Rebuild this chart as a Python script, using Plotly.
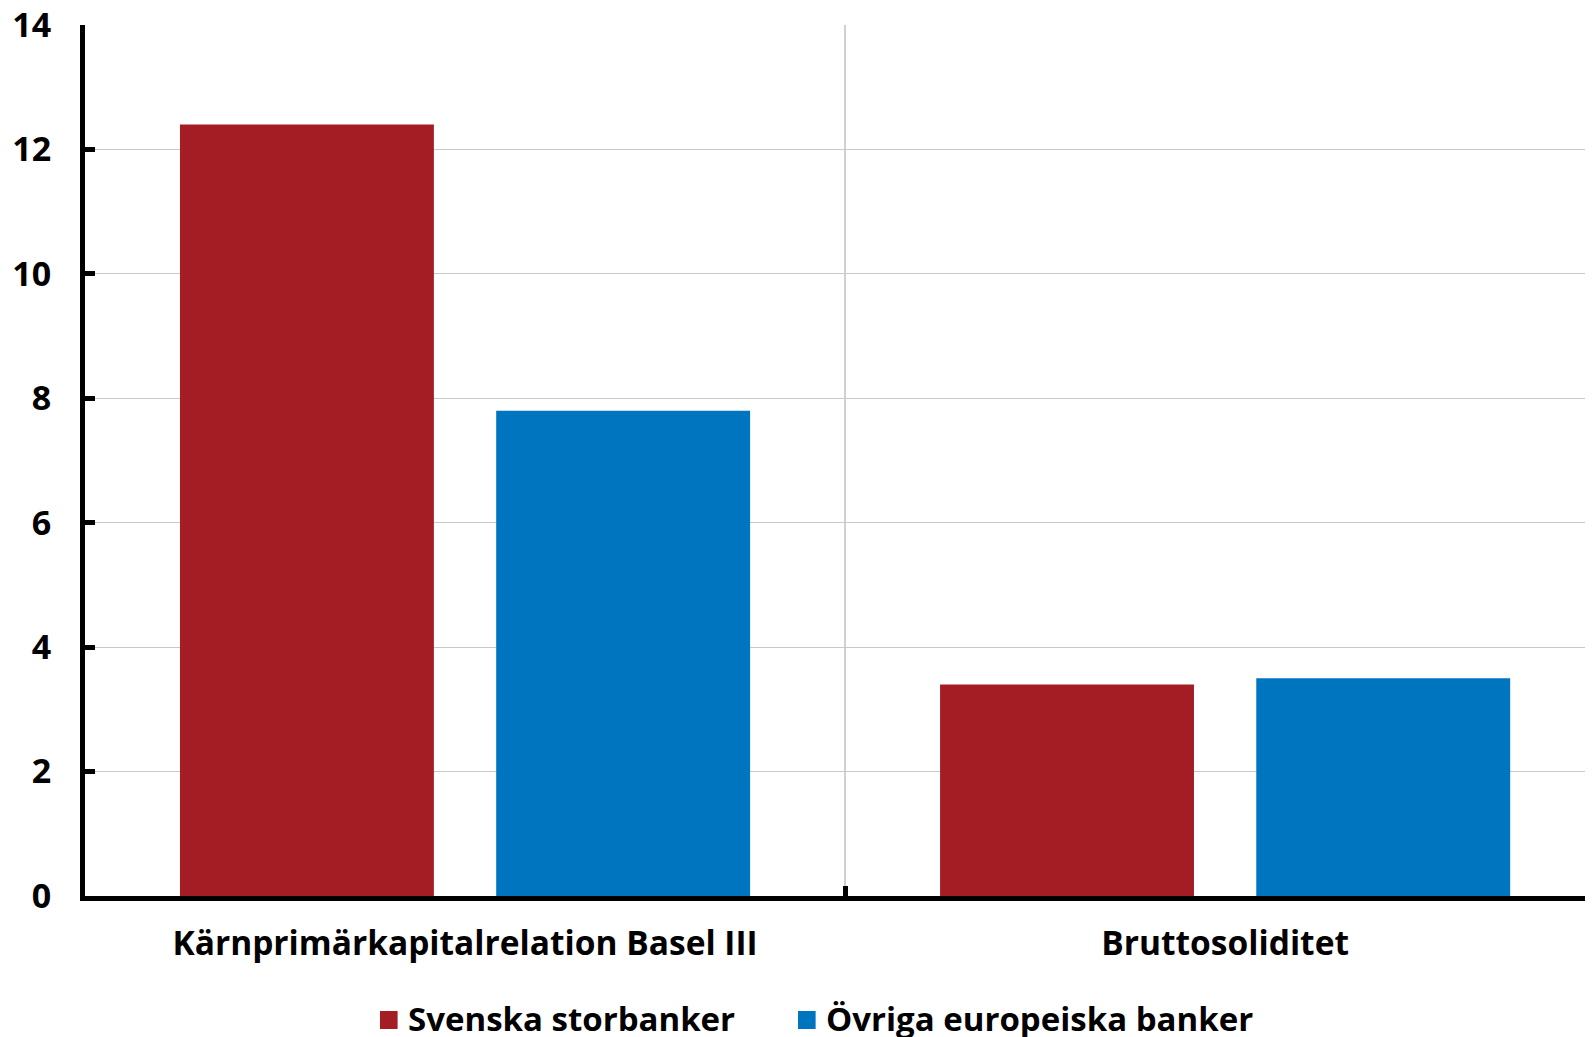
import plotly.graph_objects as go

categories = ["Kärnprimärkapitalrelation Basel III", "Bruttosoliditet"]
series_names = ["Svenska storbanker", "Övriga europeiska banker"]
svenska = [12.4, 3.4]
ovriga = [7.8, 3.5]
y_ticks = [0, 2, 4, 6, 8, 10, 12, 14]

RED = "#A41D24"
BLUE = "#0075BF"
colors = [RED, BLUE]
FONT = dict(family="Open Sans", size=33.5, color="#000000", weight="bold")
TICKFONT = dict(family="Open Sans", size=34, color="#000000", weight="bold")
LEGFONT = dict(family="Open Sans", size=33, color="#000000", weight="bold")

fig = go.Figure()
for name, vals, col in zip(series_names, [svenska, ovriga], colors):
    fig.add_trace(go.Bar(x=categories, y=vals, name=name,
                         marker=dict(color=col, line=dict(width=0)), showlegend=False))

# Legend drawn as layout items (square swatch + text), placed below the plot
leg_sq_x0 = [0.1956, 0.4728]
leg_sq_w = 0.0117
leg_text_x = [0.2129, 0.4900]
for i, name in enumerate(series_names):
    fig.add_shape(type="rect", xref="paper", yref="paper",
                  x0=leg_sq_x0[i], x1=leg_sq_x0[i] + leg_sq_w, y0=-0.1527, y1=-0.1320,
                  fillcolor=colors[i], line=dict(width=0))
    fig.add_annotation(text=name, xref="paper", yref="paper", x=leg_text_x[i], y=-0.1412,
                       xanchor="left", yanchor="middle", showarrow=False, font=LEGFONT)

fig.update_layout(
    width=1585, height=1029,
    margin=dict(l=77, r=0, t=17, b=141, autoexpand=False),
    paper_bgcolor="white", plot_bgcolor="white",
    barmode="group", bargap=0.168, bargroupgap=0.197,
    font=FONT,
    showlegend=False,
)
fig.update_xaxes(
    type="category", range=[-0.5, 1.484], automargin=False,
    showline=True, linecolor="black", linewidth=5,
    ticks="inside", tickson="boundaries", ticklen=10, tickwidth=5, tickcolor="black",
    showgrid=True, gridcolor="#D0D0D0", gridwidth=2,
    tickfont=FONT, ticklabelstandoff=14,
)
fig.update_yaxes(
    range=[0, 14], tickvals=y_ticks, ticktext=[str(v) for v in y_ticks], automargin=False,
    showline=True, linecolor="black", linewidth=5,
    ticks="inside", ticklen=10, tickwidth=5, tickcolor="black",
    showgrid=True, gridcolor="#C8C8C8", gridwidth=1, zeroline=False,
    tickfont=TICKFONT, ticklabelstandoff=22, ticklabeloverflow="allow",
)

fig.write_html("out.html")
